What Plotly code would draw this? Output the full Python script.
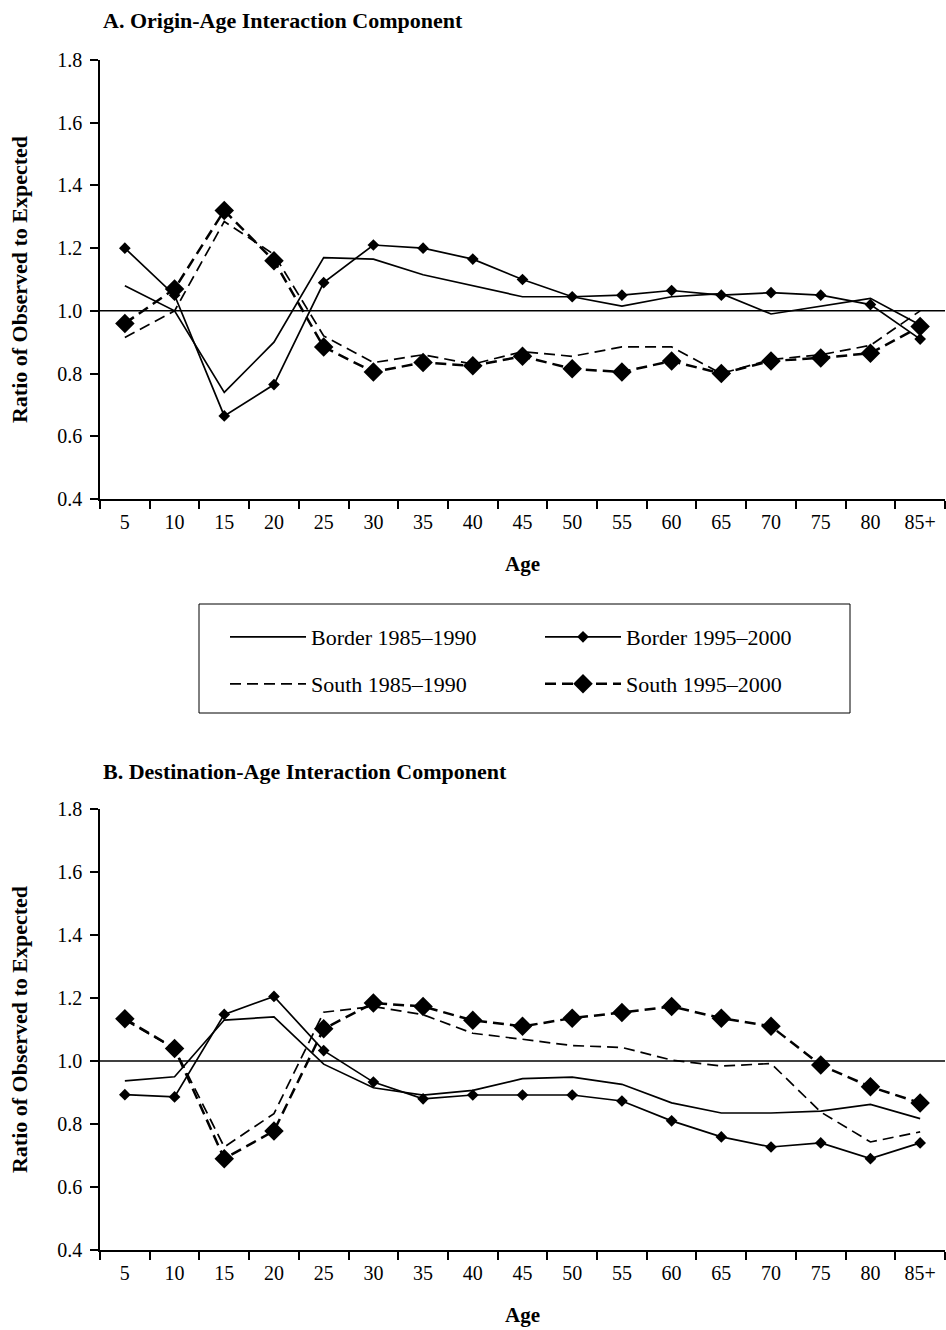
import plotly.graph_objects as go
from plotly.subplots import make_subplots

ages = ["5", "10", "15", "20", "25", "30", "35", "40", "45", "50", "55", "60", "65", "70", "75", "80", "85+"]

# Panel A: Origin-Age interaction component
a_border_8590 = [1.08, 1.00, 0.74, 0.90, 1.17, 1.165, 1.115, 1.08, 1.045, 1.045, 1.015, 1.045, 1.055, 0.99, 1.015, 1.04, 0.955]
a_border_9500 = [1.20, 1.05, 0.665, 0.765, 1.09, 1.21, 1.20, 1.165, 1.10, 1.045, 1.05, 1.065, 1.05, 1.058, 1.05, 1.02, 0.91]
a_south_8590 = [0.915, 1.00, 1.285, 1.18, 0.92, 0.835, 0.86, 0.83, 0.87, 0.855, 0.885, 0.885, 0.80, 0.845, 0.86, 0.89, 1.00]
a_south_9500 = [0.96, 1.07, 1.32, 1.16, 0.885, 0.805, 0.835, 0.825, 0.855, 0.815, 0.805, 0.84, 0.80, 0.84, 0.85, 0.865, 0.95]

# Panel B: Destination-Age interaction component
b_border_8590 = [0.937, 0.95, 1.13, 1.14, 0.99, 0.915, 0.892, 0.907, 0.944, 0.949, 0.926, 0.867, 0.835, 0.835, 0.841, 0.862, 0.817]
b_border_9500 = [0.893, 0.886, 1.148, 1.205, 1.033, 0.933, 0.88, 0.892, 0.892, 0.892, 0.873, 0.81, 0.759, 0.727, 0.74, 0.69, 0.74]
b_south_8590 = [1.13, 1.04, 0.727, 0.833, 1.155, 1.173, 1.147, 1.088, 1.069, 1.049, 1.043, 1.003, 0.984, 0.992, 0.838, 0.743, 0.775]
b_south_9500 = [1.134, 1.04, 0.69, 0.778, 1.102, 1.184, 1.173, 1.129, 1.11, 1.136, 1.154, 1.173, 1.136, 1.11, 0.987, 0.918, 0.867]

names = ["Border 1985–1990", "Border 1995–2000", "South 1985–1990", "South 1995–2000"]
y_ticks = [0.4, 0.6, 0.8, 1.0, 1.2, 1.4, 1.6, 1.8]

FONT = "Liberation Serif"
W, H = 946, 1330
ML, MR, MT, MB = 100, 1, 60, 80
PW, PH = W - ML - MR, H - MT - MB

def px_x(p):
    return (p - ML) / PW

def px_y(p):
    return (H - MB - p) / PH

fig = make_subplots(rows=2, cols=1, vertical_spacing=0.0)

DASH = "11px,6px"
styles = [
    dict(line=dict(color="black", width=1.7), mode="lines"),
    dict(line=dict(color="black", width=1.7), mode="lines+markers",
         marker=dict(symbol="diamond", size=9, color="black")),
    dict(line=dict(color="black", width=1.7, dash=DASH), mode="lines"),
    dict(line=dict(color="black", width=2.5, dash=DASH), mode="lines+markers",
         marker=dict(symbol="diamond", size=15, color="black")),
]

panel_a = [a_border_8590, a_border_9500, a_south_8590, a_south_9500]
panel_b = [b_border_8590, b_border_9500, b_south_8590, b_south_9500]

for row, series in ((1, panel_a), (2, panel_b)):
    for i, (nm, vals) in enumerate(zip(names, series)):
        st = styles[i]
        fig.add_trace(go.Scatter(
            x=ages, y=vals, name=nm, mode=st["mode"], line=st["line"],
            marker=st.get("marker"),
            showlegend=(row == 1),
            legend="legend" if i in (0, 1) else "legend2",
        ), row=row, col=1)

axis_common = dict(
    showline=True, linecolor="black", linewidth=1.5, ticks="outside",
    ticklen=8, tickwidth=1.5, tickcolor="black", showgrid=False, zeroline=False,
    tickfont=dict(family=FONT, size=20, color="black"), ticklabelstandoff=4,
)

for row, dom in ((1, [px_y(499), 1.0]), (2, [0.0, px_y(809)])):
    fig.update_xaxes(type="category", categoryorder="array", categoryarray=ages,
                     range=[-0.5, 16.5], tickson="boundaries",
                     title=dict(text="<b>Age</b>", font=dict(family=FONT, size=21, color="black"), standoff=25),
                     row=row, col=1, **axis_common)
    fig.update_yaxes(range=[0.4, 1.8], tickvals=y_ticks, tickformat=".1f", domain=dom,
                     title=dict(text="<b>Ratio of Observed to Expected</b>",
                                font=dict(family=FONT, size=22, color="black"), standoff=24),
                     row=row, col=1, **axis_common)

# reference line at 1.0
for yref, xref in (("y", "x domain"), ("y2", "x2 domain")):
    fig.add_shape(type="line", xref=xref, yref=yref, x0=0, x1=1, y0=1.0, y1=1.0,
                  line=dict(color="black", width=1.5))

# legend box
fig.add_shape(type="rect", xref="paper", yref="paper",
              x0=px_x(199), x1=px_x(850), y0=px_y(713), y1=px_y(604),
              line=dict(color="black", width=1), fillcolor="rgba(0,0,0,0)")

legend_common = dict(orientation="h", xanchor="left", yanchor="middle",
                     entrywidth=224, entrywidthmode="pixels",
                     font=dict(family=FONT, size=22, color="black"),
                     bgcolor="rgba(0,0,0,0)", borderwidth=0, itemwidth=76)

fig.update_layout(
    width=W, height=H,
    margin=dict(l=ML, r=MR, t=MT, b=MB),
    paper_bgcolor="white", plot_bgcolor="white",
    font=dict(family=FONT, size=20, color="black"),
    legend=dict(x=px_x(225), y=px_y(637), **legend_common),
    legend2=dict(x=px_x(225), y=px_y(684), **legend_common),
    annotations=[
        dict(text="<b>A. Origin-Age Interaction Component</b>", xref="paper", yref="paper",
             x=px_x(101), y=px_y(21), xanchor="left", yanchor="middle", showarrow=False,
             font=dict(family=FONT, size=22, color="black")),
        dict(text="<b>B. Destination-Age Interaction Component</b>", xref="paper", yref="paper",
             x=px_x(101), y=px_y(771), xanchor="left", yanchor="middle", showarrow=False,
             font=dict(family=FONT, size=22, color="black")),
    ],
)

fig.write_html("out.html")
